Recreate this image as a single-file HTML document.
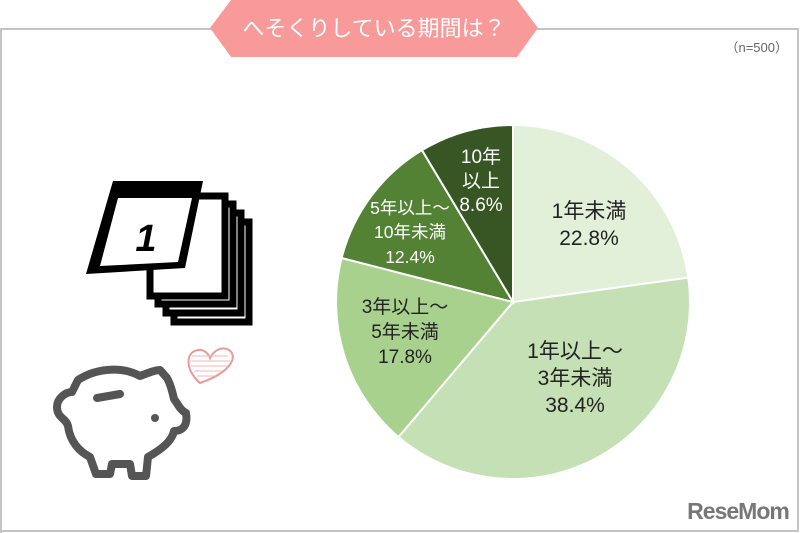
<!DOCTYPE html>
<html><head><meta charset="utf-8"><style>
body{margin:0;background:#fff;}
svg{display:block;font-family:"Liberation Sans","Noto Sans CJK JP",sans-serif;}
</style></head><body>
<svg width="800" height="533" viewBox="0 0 800 533" xmlns="http://www.w3.org/2000/svg">
<rect width="800" height="533" fill="#fff"/>
<polyline points="1,533 1,29 798,29 798,531 0,531" fill="none" stroke="#c4c4c4" stroke-width="2"/>
<polygon points="210,28 231,0 517,0 538,28 517,57 231,57" fill="#f89a9a"/>
<text x="374" y="36" font-size="22" fill="#fff" text-anchor="middle">へそくりしている期間は？</text>
<text x="788" y="52" font-size="13" fill="#666" text-anchor="end">（n=500）</text>
<g stroke="#fff" stroke-width="2">
<path d="M513,302 L513,125 A177,177 0 0 1 688.3,277.6 Z" fill="#e2efd9"/>
<path d="M513,302 L688.3,277.6 A177,177 0 0 1 398.5,437 Z" fill="#c5e0b4"/>
<path d="M513,302 L398.5,437 A177,177 0 0 1 341.6,258 Z" fill="#a9d18e"/>
<path d="M513,302 L341.6,258 A177,177 0 0 1 422,150.2 Z" fill="#548235"/>
<path d="M513,302 L422,150.2 A177,177 0 0 1 513,125 Z" fill="#375623"/>
</g>
<g font-size="21" fill="#222" text-anchor="middle">
<text x="589" y="218">1年未満</text><text x="589" y="245">22.8%</text>
<text x="575" y="358">1年以上～</text><text x="575" y="385">3年未満</text><text x="575" y="412">38.4%</text>
</g>
<g font-size="19" fill="#222" text-anchor="middle">
<text x="405" y="313">3年以上～</text><text x="405" y="338">5年未満</text><text x="405" y="363">17.8%</text>
</g>
<g font-size="17.5" fill="#fff" text-anchor="middle">
<text x="410" y="214">5年以上～</text><text x="410" y="238">10年未満</text><text x="410" y="263">12.4%</text>
</g>
<g font-size="19" fill="#fff" text-anchor="middle">
<text x="481" y="163">10年</text><text x="481" y="187">以上</text><text x="481" y="211">8.6%</text>
</g>
<!-- calendar stack -->
<g fill="#fff" stroke="#000" stroke-width="7">
<rect x="174" y="222" width="75" height="100"/>
<rect x="166" y="213" width="75" height="100"/>
<rect x="158" y="204" width="75" height="100"/>
<rect x="150" y="196" width="75" height="100"/>
</g>
<path d="M113,181 L203,181 L185,268 L86,274 Z" fill="#000"/>
<path d="M118,198 L192,198 L178,262 L100,266 Z" fill="#fff"/>
<text x="146" y="251" font-size="38" font-weight="bold" font-style="italic" fill="#000" text-anchor="middle">1</text>
<!-- heart -->
<path d="M200,383 C185,370 185,352 198,350 C205,349 209,355 210,358 C214,350 222,346 229,350 C238,356 232,372 200,383 Z" fill="#fff" stroke="#e89a9a" stroke-width="2"/>
<g stroke="#f0b8b8" stroke-width="1"><line x1="192" y1="356" x2="228" y2="356"/><line x1="190" y1="361" x2="230" y2="361"/><line x1="191" y1="366" x2="228" y2="366"/><line x1="194" y1="371" x2="222" y2="371"/><line x1="197" y1="376" x2="214" y2="376"/></g>
<!-- piggy -->
<g fill="none" stroke="#555" stroke-width="8" stroke-linejoin="round" stroke-linecap="round">
<path d="M72,392 C66,392 57,398 57,407 C57,418 66,418 68,426 C70,442 80,452 90,457 L96,474 L110,474 L112,464 L130,464 L132,476 L146,476 L148,457 C162,449 172,441 174,431 C183,431 188,425 186,413 C180,410 178,404 174,399 C172,390 170,383 167,378 L160,370 C154,370 146,374 140,376 C124,367 98,367 78,380 Z"/>
<path d="M97,398 L120,394"/>
</g>
<circle cx="155" cy="418" r="4" fill="#555"/>
<text x="738" y="519" font-size="23" font-weight="bold" fill="#777" text-anchor="middle" letter-spacing="-1">ReseMom</text>
</svg>
</body></html>
